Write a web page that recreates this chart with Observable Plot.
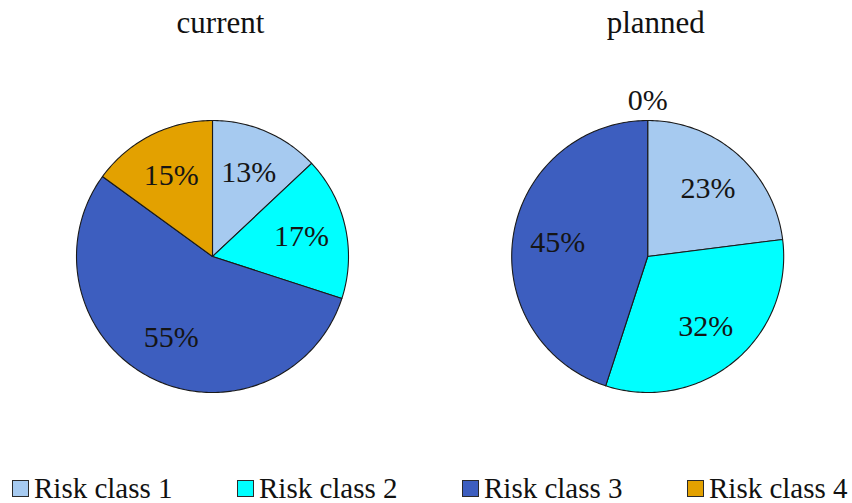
<!DOCTYPE html>
<html>
<head>
<meta charset="utf-8">
<script src="https://cdn.jsdelivr.net/npm/d3@7"></script>
<script src="https://cdn.jsdelivr.net/npm/@observablehq/plot@0.6"></script>
<style>
  html, body { margin: 0; padding: 0; background: #fff; }
  body { width: 852px; font-family: "Liberation Serif", "Times New Roman", serif; color: #111; overflow: hidden; }
  #legend { display: flex; margin-top: 12px; padding-left: 12px; height: 28px; width: 1000px; }
  #legend .item { display: flex; align-items: center; flex: none; width: 225px; font-size: 29px; line-height: 28px; white-space: nowrap; }
  #legend .sw { width: 17px; height: 17px; box-sizing: border-box; border: 1.5px solid #2a2a2a; margin-right: 5px; flex: none; }
</style>
</head>
<body>
<div id="chart"></div>
<div id="legend"></div>
<script>
// ---- data ----
const periods = ["current", "planned"];
const classes = ["Risk class 1", "Risk class 2", "Risk class 3", "Risk class 4"];
const current = [13, 17, 55, 15];
const planned = [23, 32, 45, 0];
const colors = ["#A6CAF0", "#00FFFF", "#3D5EBF", "#E3A100"];

// ---- layout (radius units) ----
const W = 852, H = 462;
const Rpx = 136;               // pie radius in pixels
const firstCenterPx = 212;     // left edge to first pie centre
const centerFromTopPx = 256;   // top to pie centres
const gap = 3.2;               // centre distance in radius units
const labelR = 0.67;           // label radius for slices
const zeroLabelR = 1.15;       // label radius for empty slices
const titleY = 1.72;

const seriesByPeriod = [current, planned];
const pie = d3.pie().sort(null).value(d => d);

const polyPoints = [];
const labels = [];
seriesByPeriod.forEach((vals, i) => {
  const cx = i * gap;
  const arcs = pie(vals);
  arcs.forEach((a, j) => {
    const mid = (a.startAngle + a.endAngle) / 2;
    const lr = a.data === 0 ? zeroLabelR : labelR;
    labels.push({x: cx + lr * Math.sin(mid), y: lr * Math.cos(mid), text: a.data + "%"});
    if (a.data <= 0) return;
    const key = periods[i] + "|" + classes[j];
    const n = Math.max(2, Math.ceil((a.endAngle - a.startAngle) / (Math.PI / 180)));
    polyPoints.push({key, cls: classes[j], x: cx, y: 0});
    for (let k = 0; k <= n; k++) {
      const t = a.startAngle + (a.endAngle - a.startAngle) * k / n;
      polyPoints.push({key, cls: classes[j], x: cx + Math.sin(t), y: Math.cos(t)});
    }
    polyPoints.push({key, cls: classes[j], x: cx, y: 0});
  });
});

const titles = periods.map((p, i) => ({x: i * gap, y: titleY, text: p}));

const chart = Plot.plot({
  width: W,
  height: H,
  margin: 0,
  style: {fontFamily: "'Liberation Serif', 'Times New Roman', serif", background: "#fff", color: "#111"},
  x: {axis: null, domain: [-firstCenterPx / Rpx, (W - firstCenterPx) / Rpx]},
  y: {axis: null, domain: [-(H - centerFromTopPx) / Rpx, centerFromTopPx / Rpx]},
  color: {domain: classes, range: colors},
  marks: [
    Plot.line(polyPoints, {x: "x", y: "y", z: "key", fill: "cls", stroke: "#1a1a1a", strokeWidth: 1.1, strokeLinejoin: "round", curve: "linear"}),
    Plot.text(labels, {x: "x", y: "y", text: "text", fontSize: 30, fill: "#151515"}),
    Plot.text(titles, {x: "x", y: "y", text: "text", fontSize: 31, fill: "#111", dx: 8})
  ]
});
document.getElementById("chart").appendChild(chart);

const legend = document.getElementById("legend");
classes.forEach((c, i) => {
  const item = document.createElement("div");
  item.className = "item";
  const sw = document.createElement("span");
  sw.className = "sw";
  sw.style.background = colors[i];
  const label = document.createElement("span");
  label.textContent = c;
  item.appendChild(sw);
  item.appendChild(label);
  legend.appendChild(item);
});
</script>
</body>
</html>
